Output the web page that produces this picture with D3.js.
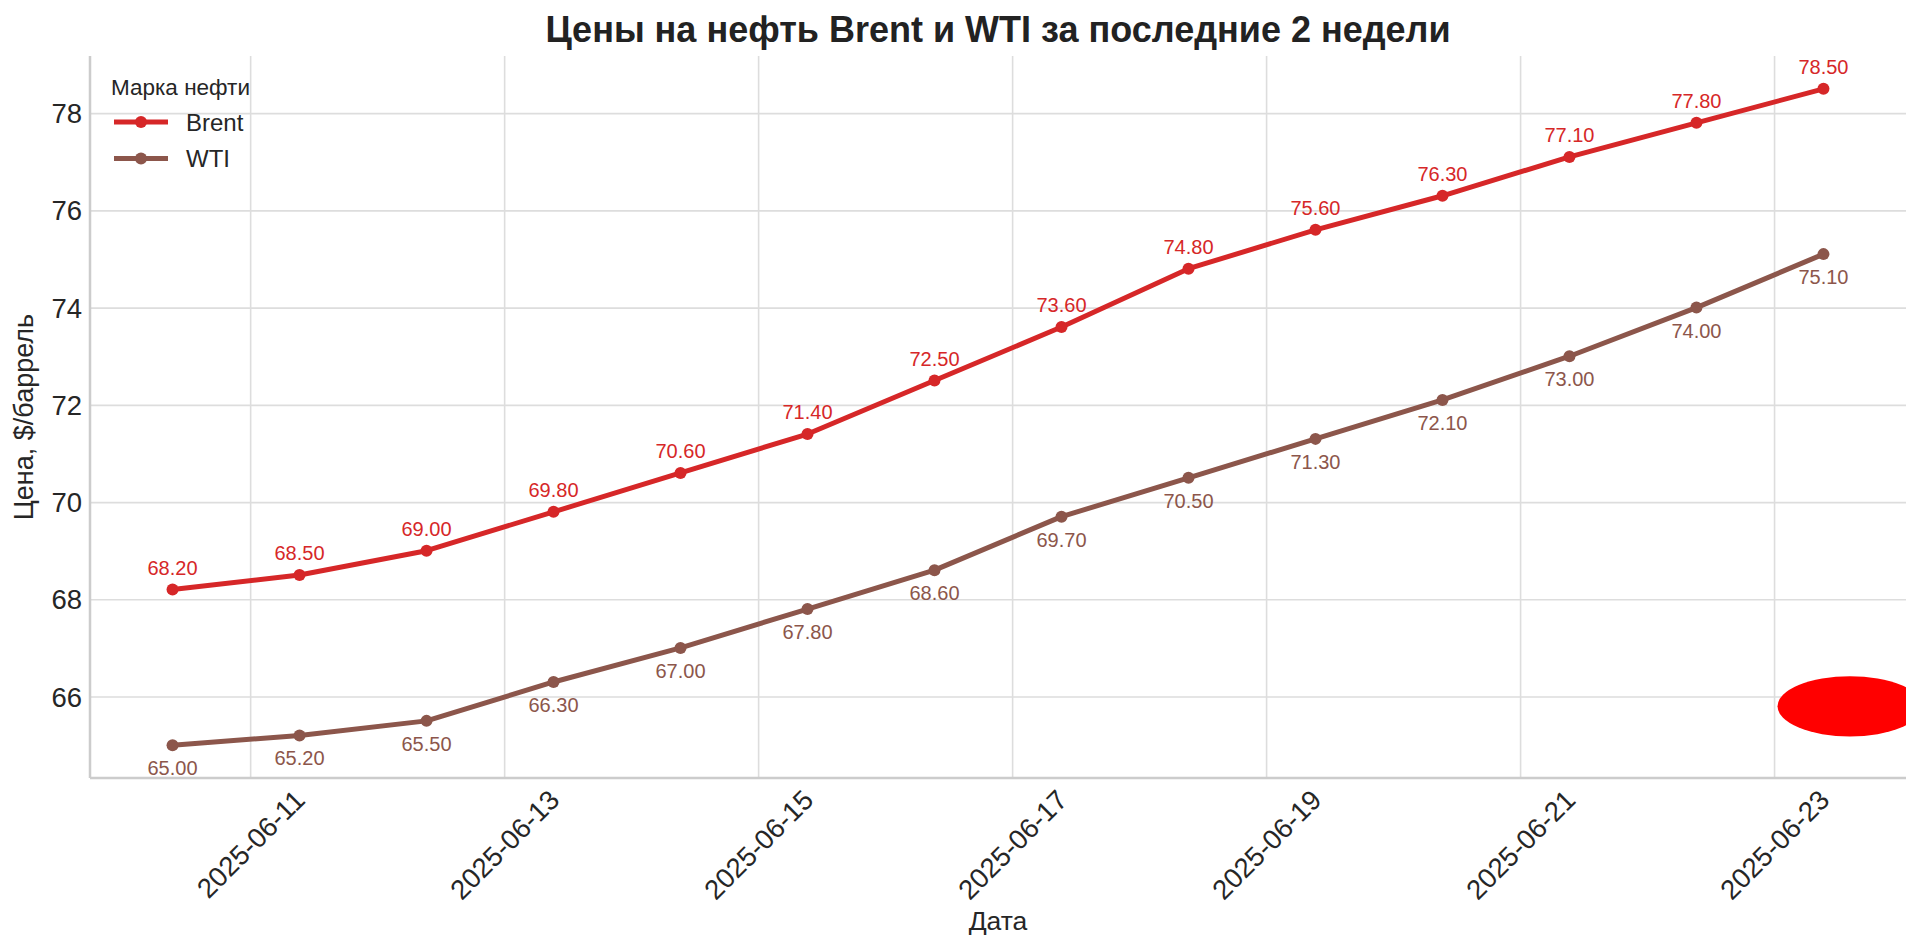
<!DOCTYPE html>
<html><head><meta charset="utf-8">
<script src="https://cdn.jsdelivr.net/npm/d3@7"></script>
<style>
body{margin:0;background:#fff;}
text{font-family:"Liberation Sans",Arial,sans-serif;fill:#262626;}
</style>
</head><body>
<svg id="c" width="1920" height="952"></svg>
<script>
// ---- data ----
const dates = ["2025-06-10T09:20","2025-06-11T09:20","2025-06-12T09:20","2025-06-13T09:20","2025-06-14T09:20","2025-06-15T09:20","2025-06-16T09:20","2025-06-17T09:20","2025-06-18T09:20","2025-06-19T09:20","2025-06-20T09:20","2025-06-21T09:20","2025-06-22T09:20","2025-06-23T09:20"];
const brent = [68.20,68.50,69.00,69.80,70.60,71.40,72.50,73.60,74.80,75.60,76.30,77.10,77.80,78.50];
const wti   = [65.00,65.20,65.50,66.30,67.00,67.80,68.60,69.70,70.50,71.30,72.10,73.00,74.00,75.10];
const seriesNames = ["Brent","WTI"];
const yTickValues = [66,68,70,72,74,76,78];
const xTickLabels = ["2025-06-11","2025-06-13","2025-06-15","2025-06-17","2025-06-19","2025-06-21","2025-06-23"];
const titleText = "Цены на нефть Brent и WTI за последние 2 недели";
const xLabelText = "Дата";
const yLabelText = "Цена, $/баррель";
const legendTitleText = "Марка нефти";
const blobDate = "2025-06-23T14:20";
const blobValue = 65.8;
const blobHalfWidthDays = 0.57;
const blobHalfHeight = 0.62;

// ---- styles ----
const colors = ["#d62728","#8c564b"];
const W = 1920, H = 952;
const m = {left:90, right:14, top:56, bottom:174};
const iw = W - m.left - m.right, ih = H - m.top - m.bottom;

const parse = d3.timeParse("%Y-%m-%dT%H:%M");
const parseDay = d3.timeParse("%Y-%m-%d");
const fmtDay = d3.timeFormat("%Y-%m-%d");
const X = dates.map(parse);
const tX = xTickLabels.map(parseDay);

const series = [brent, wti];
const xExt = d3.extent(X).map(d=>+d);
const xPad = (xExt[1]-xExt[0])*0.05;
const allV = brent.concat(wti);
const yExt = d3.extent(allV);
const yPad = (yExt[1]-yExt[0])*0.05;

const x = d3.scaleTime().domain([new Date(xExt[0]-xPad), new Date(xExt[1]+xPad)]).range([0, iw]);
const y = d3.scaleLinear().domain([yExt[0]-yPad, yExt[1]+yPad]).range([ih, 0]);

const svg = d3.select("#c");
svg.append("rect").attr("width",W).attr("height",H).attr("fill","#fff");
svg.append("defs").append("clipPath").attr("id","clip")
  .append("rect").attr("width",iw).attr("height",ih);

const g = svg.append("g").attr("transform",`translate(${m.left},${m.top})`);

// grid
const gx = g.append("g").attr("transform",`translate(0,${ih})`)
  .call(d3.axisBottom(x).tickValues(tX).tickSize(-ih).tickFormat(""));
gx.select(".domain").remove();
gx.selectAll("line").attr("stroke","#dddddd").attr("stroke-width",1.6);
const gy = g.append("g")
  .call(d3.axisLeft(y).tickValues(yTickValues).tickSize(-iw).tickFormat(""));
gy.select(".domain").remove();
gy.selectAll("line").attr("stroke","#dddddd").attr("stroke-width",1.6);

// axes labels
const ax = g.append("g").attr("transform",`translate(0,${ih})`)
  .call(d3.axisBottom(x).tickValues(tX).tickSize(0).tickPadding(0).tickFormat(fmtDay));
ax.select(".domain").remove();
const tickFont = 27.5;
ax.selectAll("text").attr("font-size",tickFont).attr("fill","#262626")
  .attr("font-family","Liberation Sans, Arial, sans-serif")
  .each(function(){
    const t = d3.select(this);
    t.attr("y",null).attr("dy",null);
    const w = this.getComputedTextLength();
    const h = tickFont*1.117;
    const half = (w+h)*Math.SQRT1_2/2;
    t.attr("text-anchor","middle").attr("x",0).attr("y",0)
     .attr("dy", (tickFont*0.35)+"px")
     .attr("transform",`translate(0,${6+half}) rotate(-45)`);
  });

const ay = g.append("g")
  .call(d3.axisLeft(y).tickValues(yTickValues).tickSize(0).tickPadding(8).tickFormat(d3.format("d")));
ay.select(".domain").remove();
ay.selectAll("text").attr("font-size",tickFont).attr("fill","#262626")
  .attr("font-family","Liberation Sans, Arial, sans-serif").attr("dy","0.35em");

// spines
g.append("line").attr("x1",0).attr("x2",0).attr("y1",0).attr("y2",ih)
  .attr("stroke","#cccccc").attr("stroke-width",2.5);
g.append("line").attr("x1",0).attr("x2",iw).attr("y1",ih).attr("y2",ih)
  .attr("stroke","#cccccc").attr("stroke-width",2.5);

// lines
const plot = g.append("g").attr("clip-path","url(#clip)");
const line = d3.line().x((d,i)=>x(X[i])).y(d=>y(d));
series.forEach((s,k)=>{
  plot.append("path").datum(s).attr("d",line).attr("fill","none")
    .attr("stroke",colors[k]).attr("stroke-width",5).attr("stroke-linejoin","round").attr("stroke-linecap","round");
  plot.selectAll(null).data(s).enter().append("circle")
    .attr("cx",(d,i)=>x(X[i])).attr("cy",d=>y(d)).attr("r",6).attr("fill",colors[k]);
});
// labels
const f2 = d3.format(".2f");
g.selectAll(null).data(brent).enter().append("text")
  .attr("x",(d,i)=>x(X[i])).attr("y",d=>y(d)-15).attr("text-anchor","middle")
  .attr("font-size",20).style("fill",colors[0]).text(d=>f2(d));
g.selectAll(null).data(wti).enter().append("text")
  .attr("x",(d,i)=>x(X[i])).attr("y",d=>y(d)+30).attr("text-anchor","middle")
  .attr("font-size",20).style("fill",colors[1]).text(d=>f2(d));

// red blob
const bd = parse(blobDate);
const bx = x(bd);
const brx = x(new Date(+bd + blobHalfWidthDays*864e5)) - bx;
const bry = y(blobValue - blobHalfHeight) - y(blobValue);
plot.append("ellipse").attr("cx",bx).attr("cy",y(blobValue)).attr("rx",brx).attr("ry",bry).attr("fill","#ff0000");

// legend
const lg = g.append("g");
lg.append("text").attr("x",21).attr("y",39).attr("font-size",22.5).text(legendTitleText);
seriesNames.forEach((n,k)=>{
  const cy = 66 + k*36.6;
  lg.append("line").attr("x1",24).attr("x2",78).attr("y1",cy).attr("y2",cy)
    .attr("stroke",colors[k]).attr("stroke-width",5);
  lg.append("circle").attr("cx",51).attr("cy",cy).attr("r",6).attr("fill",colors[k]);
  lg.append("text").attr("x",96).attr("y",cy+8.5).attr("font-size",24).text(n);
});

// titles
svg.append("text").attr("x",m.left+iw/2).attr("y",42).attr("text-anchor","middle")
  .attr("font-size",36).attr("font-weight","bold").style("fill","#222").text(titleText);
svg.append("text").attr("x",m.left+iw/2).attr("y",930).attr("text-anchor","middle")
  .attr("font-size",26.5).text(xLabelText);
svg.append("text").attr("transform",`translate(33,${m.top+ih/2}) rotate(-90)`).attr("text-anchor","middle")
  .attr("font-size",27).text(yLabelText);
</script>
</body></html>
